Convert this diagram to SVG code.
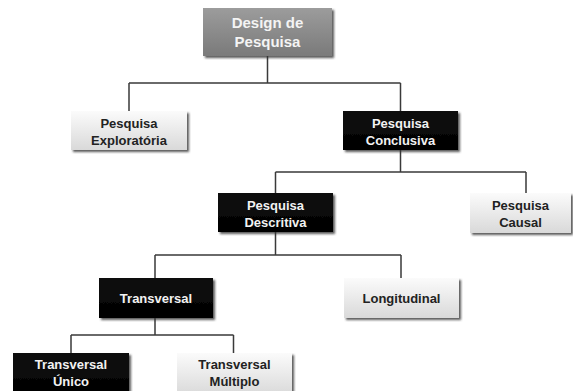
<svg xmlns="http://www.w3.org/2000/svg" width="573" height="391" viewBox="0 0 573 391">
<defs>
<linearGradient id="gLight" x1="0" y1="0" x2="0" y2="1"><stop offset="0" stop-color="#fbfbfb"/><stop offset="1" stop-color="#d9d9d9"/></linearGradient>
<linearGradient id="gDark" x1="0" y1="0" x2="0" y2="1"><stop offset="0" stop-color="#111"/><stop offset="1" stop-color="#000"/></linearGradient>
<linearGradient id="gRoot" x1="0" y1="0" x2="0" y2="1"><stop offset="0" stop-color="#9c9c9c"/><stop offset="1" stop-color="#7a7a7a"/></linearGradient>
<filter id="sh" x="-10%" y="-20%" width="130%" height="150%"><feDropShadow dx="2" dy="2" stdDeviation="1.2" flood-color="#333" flood-opacity="0.8"/></filter>
</defs>
<style>
.light{fill:url(#gLight);filter:url(#sh)}
.dark{fill:url(#gDark);filter:url(#sh)}
.root{fill:url(#gRoot);filter:url(#sh)}
text{font-family:"Liberation Sans",Arial,sans-serif;font-weight:bold;font-size:13px;text-anchor:middle}
.tl{fill:#222}
.td{fill:#f2f2f2}
.tr{fill:#f4f4f4;font-size:15px}
.conn{fill:none;stroke:#3a3a3a;stroke-width:1.5}
</style>
<g id="connectors">
<path class="conn" d="M267.5 56V83M129 83H400.5M129 83V111M400.5 83V111"/>
<path class="conn" d="M400.5 150V172M275.5 172H526M275.5 172V193M526 172V193"/>
<path class="conn" d="M275.5 232V255M155 255H401M155 255V278M401 255V278"/>
<path class="conn" d="M155 318V335M71 335H233.5M71 335V353M233.5 335V353"/>
</g>
<g id="root"><rect class="root" x="203" y="8" width="129" height="48"/><text class="tr" x="267.5" y="28">Design de</text><text class="tr" x="267.5" y="47">Pesquisa</text></g>
<g id="exploratoria"><rect class="light" x="71" y="111" width="116" height="39"/><text class="tl" x="129" y="128">Pesquisa</text><text class="tl" x="129" y="145">Exploratória</text></g>
<g id="conclusiva"><rect class="dark" x="343" y="111" width="115" height="39"/><text class="td" x="400.5" y="128">Pesquisa</text><text class="td" x="400.5" y="145">Conclusiva</text></g>
<g id="descritiva"><rect class="dark" x="218" y="193" width="115" height="39"/><text class="td" x="275.5" y="210">Pesquisa</text><text class="td" x="275.5" y="227">Descritiva</text></g>
<g id="causal"><rect class="light" x="470" y="193" width="101" height="40"/><text class="tl" x="520.5" y="210">Pesquisa</text><text class="tl" x="520.5" y="227">Causal</text></g>
<g id="transversal"><rect class="dark" x="99" y="278" width="114" height="40"/><text class="td" x="156" y="302.5">Transversal</text></g>
<g id="longitudinal"><rect class="light" x="344" y="278" width="115" height="40"/><text class="tl" x="401.5" y="302.5">Longitudinal</text></g>
<g id="unico"><rect class="dark" x="13" y="353" width="116" height="42"/><text class="td" x="71" y="369">Transversal</text><text class="td" x="71" y="386">Único</text></g>
<g id="multiplo"><rect class="light" x="177" y="353" width="115" height="42"/><text class="tl" x="234.5" y="369">Transversal</text><text class="tl" x="234.5" y="386">Múltiplo</text></g>
</svg>
